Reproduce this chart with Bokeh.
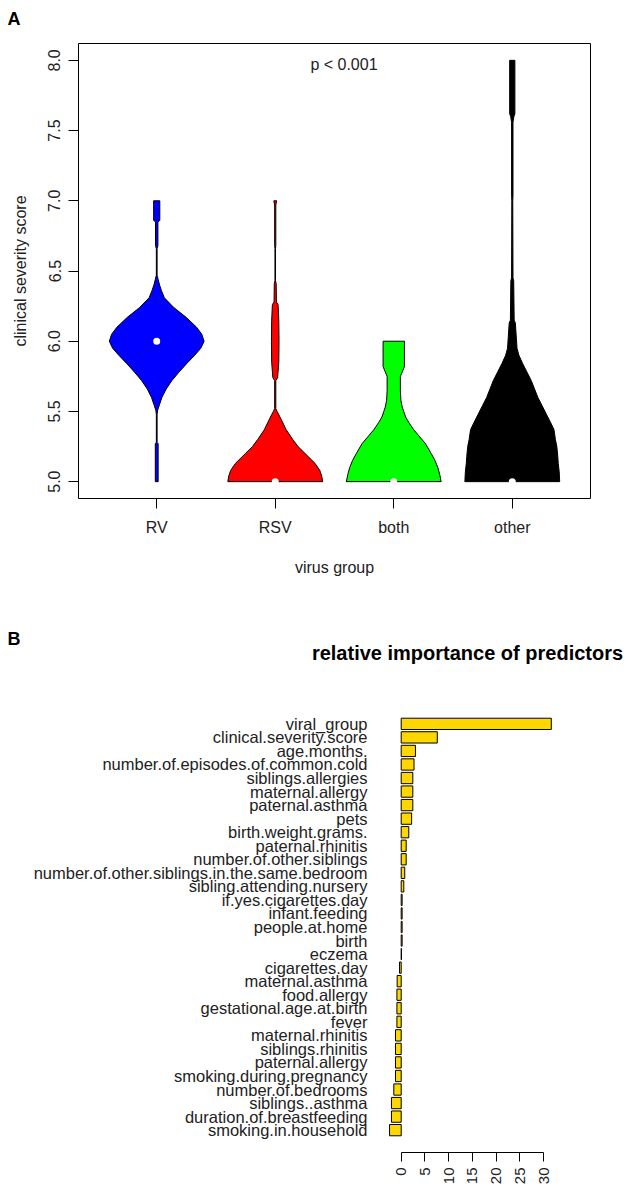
import math
import numpy as np
from bokeh.plotting import figure
from bokeh.models import Range1d, FixedTicker, PrintfTickFormatter, FactorRange
from bokeh.embed import file_html
from bokeh.resources import INLINE
from bokeh.core.properties import value

FONT = "Liberation Sans"
TXT = "#222222"
W = 630

# ---------------- Panel A data (violin profiles) ----------------
groups = ["RV", "RSV", "both", "other"]
group_pos = [1, 2, 3, 4]
group_colors = ["#0000FF", "#FF0000", "#00FF00", "#000000"]
group_medians = [6.0, 5.0, 5.0, 5.0]
y_ticks = [5.0, 5.5, 6.0, 6.5, 7.0, 7.5, 8.0]

# score levels and relative violin half-widths (1 = widest)
rv_y = [5.00, 5.27, 5.28, 5.48, 5.51, 5.55, 5.60, 5.66, 5.72, 5.78, 5.84, 5.90, 5.95, 6.00,
        6.05, 6.10, 6.17, 6.24, 6.31, 6.36, 6.40, 6.44, 6.47, 6.66, 6.68, 6.85, 6.86, 7.00]
rv_w = [0.03, 0.03, 0.008, 0.008, 0.02, 0.06, 0.11, 0.20, 0.32, 0.47, 0.63, 0.80, 0.93, 1.00,
        0.95, 0.84, 0.62, 0.36, 0.16, 0.10, 0.06, 0.03, 0.008, 0.008, 0.025, 0.025, 0.065, 0.065]

rsv_y = [5.00, 5.04, 5.08, 5.13, 5.20, 5.25, 5.30, 5.37, 5.44, 5.50, 5.52, 5.72, 5.74, 5.85,
         6.00, 6.15, 6.26, 6.28, 6.41, 6.43, 6.66, 6.68, 6.97, 7.00]
rsv_w = [1.00, 0.98, 0.94, 0.84, 0.63, 0.48, 0.37, 0.23, 0.13, 0.04, 0.012, 0.012, 0.05, 0.075,
         0.08, 0.075, 0.06, 0.025, 0.02, 0.006, 0.006, 0.012, 0.012, 0.03]

both_y = [5.00, 5.05, 5.10, 5.15, 5.20, 5.27, 5.33, 5.37, 5.42, 5.46, 5.50, 5.53, 5.58, 5.65,
          5.75, 5.79, 5.82, 6.00]
both_w = [1.00, 0.97, 0.93, 0.87, 0.79, 0.67, 0.52, 0.42, 0.32, 0.25, 0.21, 0.18, 0.15, 0.14,
          0.14, 0.19, 0.225, 0.225]

other_y = [5.00, 5.07, 5.13, 5.18, 5.25, 5.30, 5.37, 5.42, 5.48, 5.54, 5.60, 5.66, 5.72, 5.78,
           5.84, 5.90, 5.95, 6.13, 6.15, 6.43, 6.45, 7.00, 7.04, 7.56, 7.60, 7.62, 8.00]
other_w = [1.00, 0.99, 0.97, 0.96, 0.94, 0.91, 0.88, 0.81, 0.72, 0.63, 0.54, 0.47, 0.40, 0.31,
           0.22, 0.14, 0.10, 0.065, 0.04, 0.03, 0.015, 0.01, 0.015, 0.015, 0.035, 0.055, 0.055]

violin_halfwidth = 0.4
p_text = "p < 0.001"
p_text_x = 2.58
p_text_y = 7.97

# ---------------- Panel B data ----------------
pred_names = [
    "viral_group", "clinical.severity.score", "age.months.", "number.of.episodes.of.common.cold",
    "siblings.allergies", "maternal.allergy", "paternal.asthma", "pets", "birth.weight.grams.",
    "paternal.rhinitis", "number.of.other.siblings", "number.of.other.siblings.in.the.same.bedroom",
    "sibling.attending.nursery", "if.yes.cigarettes.day", "infant.feeding", "people.at.home",
    "birth", "eczema", "cigarettes.day", "maternal.asthma", "food.allergy",
    "gestational.age.at.birth", "fever", "maternal.rhinitis", "siblings.rhinitis",
    "paternal.allergy", "smoking.during.pregnancy", "number.of.bedrooms", "siblings..asthma",
    "duration.of.breastfeeding", "smoking.in.household",
]
importance = [
    31.6, 7.6, 3.0, 2.7, 2.45, 2.45, 2.45, 2.2, 1.6, 1.05, 1.05, 0.75, 0.55, 0.2, 0.2, 0.2,
    0.2, 0.05, -0.35, -0.85, -0.9, -0.9, -0.9, -1.2, -1.2, -1.2, -1.2, -1.55, -2.05, -2.05, -2.45,
]
x_ticks_b = [0, 5, 10, 15, 20, 25, 30]
title_b = "relative importance of predictors"


def header(height):
    h = figure(width=W, height=height, x_range=Range1d(0, W), y_range=Range1d(height, 0),
               output_backend="svg", toolbar_location=None, title=None,
               x_axis_location=None, y_axis_location=None, min_border=0)
    h.outline_line_color = None
    h.grid.visible = False
    return h


# ================= header A =================
hA = header(38)
hA.text(x=[7], y=[18.5], text=["A"], text_font=value(FONT), text_font_size="18px",
        text_font_style="bold", text_align="left", text_baseline="middle", text_color="black")

# ================= Panel A =================
pA = figure(width=W, height=570, x_range=Range1d(0.34, 4.66), y_range=Range1d(4.88, 8.12),
            output_backend="svg", toolbar_location=None, title=None,
            min_border_left=78, min_border_right=40, min_border_top=5, min_border_bottom=110)
pA.outline_line_color = "black"
pA.outline_line_width = 1
pA.outline_line_alpha = 1
pA.xgrid.visible = False
pA.ygrid.visible = False

profiles = [(rv_y, rv_w), (rsv_y, rsv_w), (both_y, both_w), (other_y, other_w)]
for pos, col, (ys, ws) in zip(group_pos, group_colors, profiles):
    ys = np.asarray(ys, dtype=float)
    hw = np.asarray(ws, dtype=float) * violin_halfwidth
    px = np.concatenate([pos + hw, (pos - hw)[::-1]])
    py = np.concatenate([ys, ys[::-1]])
    pA.patch(px, py, fill_color=col, line_color="black", line_width=1)

pA.scatter(group_pos, group_medians, size=7, fill_color="white", line_color=None)

pA.text(x=[p_text_x], y=[p_text_y], text=[p_text], text_font=value(FONT),
        text_font_size="16px", text_align="center", text_baseline="middle", text_color=TXT)

xa = pA.xaxis[0]
xa.ticker = FixedTicker(ticks=group_pos)
xa.major_label_overrides = {p: g for p, g in zip(group_pos, groups)}
xa.axis_line_color = None
xa.major_tick_out = 10
xa.major_tick_in = 0
xa.minor_tick_line_color = None
xa.major_label_standoff = 10
xa.major_label_text_font = FONT
xa.major_label_text_font_size = "16px"
xa.major_label_text_color = TXT
xa.axis_label = "virus group"
xa.axis_label_standoff = 20
xa.axis_label_text_font = FONT
xa.axis_label_text_font_size = "16px"
xa.axis_label_text_font_style = "normal"
xa.axis_label_text_color = TXT

ya = pA.yaxis[0]
ya.ticker = FixedTicker(ticks=y_ticks)
ya.formatter = PrintfTickFormatter(format="%.1f")
ya.major_label_orientation = "parallel"
ya.axis_line_color = None
ya.major_tick_out = 10
ya.major_tick_in = 0
ya.minor_tick_line_color = None
ya.major_label_standoff = 8
ya.major_label_text_font = FONT
ya.major_label_text_font_size = "16px"
ya.major_label_text_color = TXT
ya.axis_label = "clinical severity score"
ya.axis_label_standoff = 17
ya.axis_label_text_font = FONT
ya.axis_label_text_font_size = "16px"
ya.axis_label_text_font_style = "normal"
ya.axis_label_text_color = TXT

# ================= header B =================
hB = header(85)
hB.text(x=[7], y=[30.5], text=["B"], text_font=value(FONT), text_font_size="18px",
        text_font_style="bold", text_align="left", text_baseline="middle", text_color="black")
hB.text(x=[467], y=[44], text=[title_b], text_font=value(FONT), text_font_size="20px",
        text_font_style="bold", text_align="center", text_baseline="middle", text_color="black")

# ================= Panel B =================
pB = figure(width=W, height=503, x_range=Range1d(-6.04, 46.17),
            y_range=FactorRange(factors=pred_names[::-1], range_padding=1.15,
                                range_padding_units="absolute"),
            output_backend="svg", toolbar_location=None, title=None,
            min_border_left=372, min_border_right=10, min_border_top=8, min_border_bottom=44)
pB.outline_line_color = None
pB.xgrid.visible = False
pB.ygrid.visible = False

pB.hbar(y=pred_names, left=0, right=importance, height=0.833,
        fill_color="#FFD700", line_color="black", line_width=1)

xb = pB.xaxis[0]
xb.ticker = FixedTicker(ticks=x_ticks_b)
xb.bounds = (0, 30)
xb.major_label_orientation = math.pi / 2
xb.major_tick_out = 9
xb.major_tick_in = 0
xb.minor_tick_line_color = None
xb.major_label_standoff = 6
xb.major_label_text_font = FONT
xb.major_label_text_font_size = "15px"
xb.major_label_text_color = TXT
xb.axis_line_color = "black"

yb = pB.yaxis[0]
yb.axis_line_color = None
yb.major_tick_line_color = None
yb.major_tick_out = 0
yb.major_tick_in = 0
yb.minor_tick_line_color = None
yb.major_label_standoff = 5
yb.major_label_text_font = FONT
yb.major_label_text_font_size = "16.5px"
yb.major_label_text_color = TXT

open("out.html", "w").write(file_html([hA, pA, hB, pB], INLINE))
